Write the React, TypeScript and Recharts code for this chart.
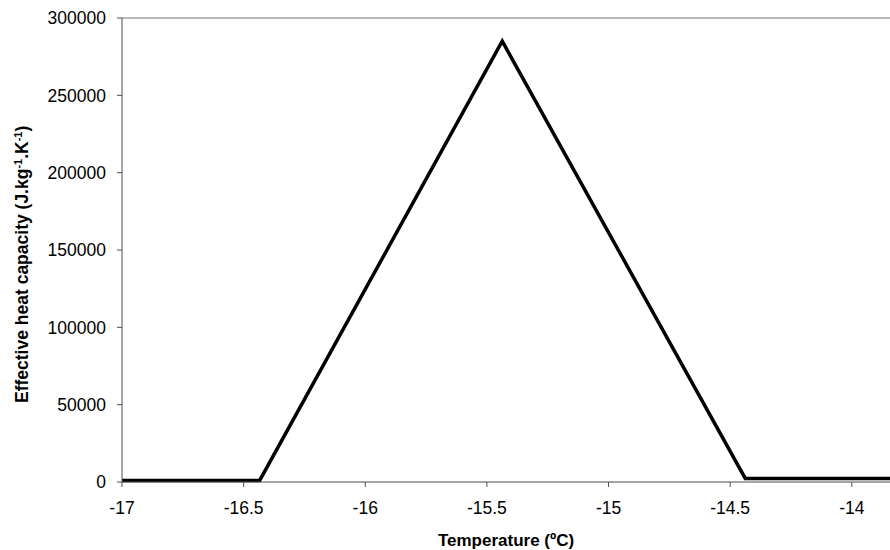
import { LineChart, Line, XAxis, YAxis, ReferenceLine } from "recharts";

// temperature (ºC) vs effective heat capacity (J/kg/K)
const temps = [-17, -16.434, -15.437, -14.438, -13.843];
const capacity = [1000, 1000, 285000, 2300, 2300];
const xTicks = [-17, -16.5, -16, -15.5, -15, -14.5, -14];
const yTicks = [0, 50000, 100000, 150000, 200000, 250000, 300000];

const FONT = "'Liberation Sans', Arial, sans-serif";
const AXIS = "#4d4d4d";

const data = temps.map((t, i) => ({ t, c: capacity[i] }));

function YTitle() {
  return (
    <text
      x={28}
      y={403}
      transform="rotate(-90, 28, 403)"
      fontFamily={FONT}
      fontSize={17.5}
      fontWeight="bold"
      fill="#000"
      textAnchor="start"
    >
      <tspan>Effective heat capacity (J.kg</tspan>
      <tspan dy={-6} fontSize={11}>-1</tspan>
      <tspan dy={6}>.K</tspan>
      <tspan dy={-6} fontSize={11}>-1</tspan>
      <tspan dy={6}>)</tspan>
    </text>
  );
}

function XTitle() {
  return (
    <text x={506} y={546} fontFamily={FONT} fontSize={17} fontWeight="bold" fill="#000" textAnchor="middle">
      Temperature (ºC)
    </text>
  );
}

export default function App() {
  return (
    <div style={{ position: "absolute", left: 0, top: 0, width: 890, height: 550, background: "#fff" }}>
      <LineChart width={890} height={550} data={data} margin={{ top: 18, right: 0, bottom: 0, left: 0 }}>
        <XAxis
          dataKey="t"
          type="number"
          domain={[-17, -13.843]}
          ticks={xTicks}
          height={68}
          stroke={AXIS}
          tickSize={5}
          tickMargin={15}
          tick={{ fill: "#000", fontSize: 17.5, fontFamily: FONT }}
          label={{ content: () => <XTitle /> }}
        />
        <YAxis
          type="number"
          domain={[0, 300000]}
          ticks={yTicks}
          width={122}
          stroke={AXIS}
          tickSize={5}
          tickMargin={11}
          tick={{ fill: "#000", fontSize: 17.5, fontFamily: FONT }}
          label={{ content: () => <YTitle /> }}
        />
        <ReferenceLine y={300000} stroke="#a0a0a0" strokeWidth={1.5} />
        <Line
          dataKey="c"
          type="linear"
          stroke="#000"
          strokeWidth={3.5}
          dot={false}
          activeDot={false}
          isAnimationActive={false}
        />
      </LineChart>
    </div>
  );
}
